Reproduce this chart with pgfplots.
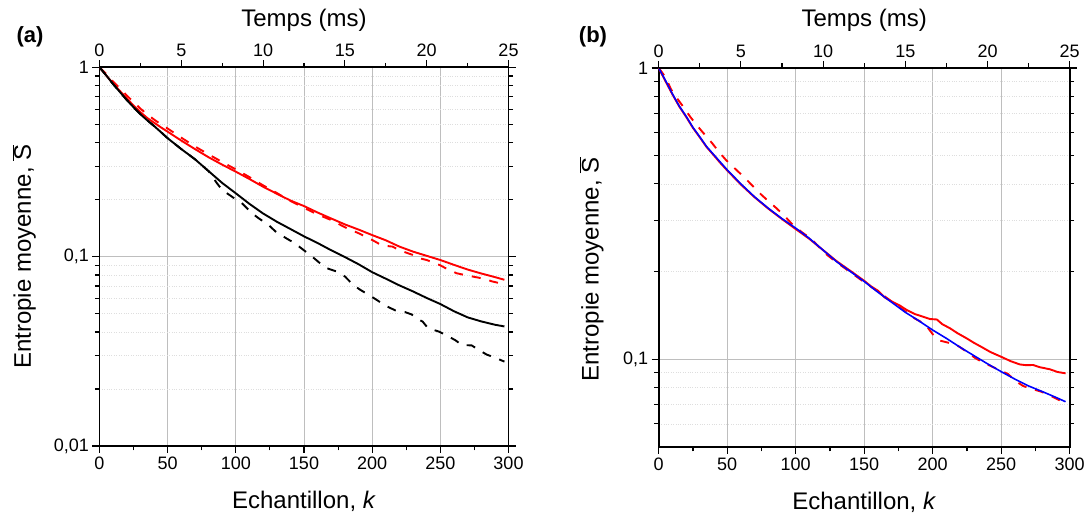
\documentclass[border=0pt]{standalone}
\usepackage{fontspec}
\setmainfont{Liberation Sans}
\usepackage{pgfplots}
\pgfplotsset{compat=1.18}
\definecolor{gridmaj}{RGB}{190,190,190}
\definecolor{gridmin}{RGB}{222,222,222}
\pgfplotsset{
 mybasestyle/.style={
  scale only axis, anchor=south west,
  tick align=outside,
  major tick length=7pt, minor tick length=4.5pt,
  every tick/.style={black, line width=1.1pt},
  axis line style={line width=1.7pt},
  tick label style={font=\fontsize{18}{18}\selectfont},
  label style={font=\fontsize{24}{24}\selectfont},
  /pgf/number format/assume math mode=true,
 },
 mymainstyle/.style={
  mybasestyle,
  xmin=0, xmax=300,
  xtick={0,50,...,300}, minor xtick={25,75,...,275},
  xtick pos=left, ytick pos=both, yticklabel pos=left,
  xmajorgrids, ymajorgrids, yminorgrids,
  major grid style={gridmaj, line width=1pt},
  minor grid style={gridmin, dotted, line width=0.7pt},
  xlabel={Echantillon, \textit{k}},
  ylabel={Entropie moyenne, \(\overline{\mbox{S}}\)},
  xlabel style={at={(axis description cs:0.5,0)},anchor=base,yshift=-62pt},
  every axis plot/.append style={line width=1.9pt, line join=round},
 },
 mytopstyle/.style={
  mybasestyle,
  xmin=0, xmax=25, ymin=0, ymax=1,
  axis x line*=top, axis y line=none,
  xtick={0,5,...,25}, minor xtick={2.5,7.5,...,22.5},
  xlabel={Temps (ms)},
  xlabel style={at={(axis description cs:0.5,1)},anchor=base,yshift=41pt},
 },
}
\tikzset{mydsh/.style={dash pattern=on 9pt off 9pt}}
\begin{document}
\begin{tikzpicture}
\path[use as bounding box] (0pt,0pt) rectangle (1089pt,516pt);
\node[font=\bfseries\fontsize{22}{22}\selectfont] at (30pt,479pt) {(a)};
\node[font=\bfseries\fontsize{22}{22}\selectfont] at (593pt,479pt) {(b)};
% ---------------- (a)
\begin{axis}[ymode=log, mymainstyle, at={(99.5pt,70pt)}, width=409pt, height=378.7pt,
  ymin=0.01, ymax=1, ytick={0.01,0.1,1}, yticklabels={{0,01},{0,1},{1}},
  minor ytick={0.02,0.03,0.04,0.05,0.06,0.07,0.08,0.09,0.2,0.3,0.4,0.5,0.6,0.7,0.8,0.9},
  ylabel style={at={([xshift=-75.5pt]axis description cs:0,0.5)},anchor=center},
]
\addplot[red] coordinates {(0,1.0)(5,0.905)(10,0.82)(15,0.75)(20,0.685)(25,0.628)(30,0.58)(35,0.54)(40,0.51)(45,0.482)(50,0.457)(60,0.41)(70,0.37)(80,0.335)(90,0.306)(100,0.281)(110,0.257)(120,0.234)(130,0.215)(140,0.198)(150,0.185)(160,0.171)(170,0.159)(180,0.148)(190,0.139)(200,0.130)(210,0.122)(220,0.113)(230,0.1063)(240,0.101)(250,0.096)(260,0.0905)(270,0.0855)(280,0.0815)(290,0.078)(297,0.0755)};
\addplot[red,mydsh] coordinates {(0,1.0)(5,0.92)(10,0.84)(15,0.775)(20,0.71)(25,0.655)(30,0.605)(35,0.565)(40,0.53)(45,0.5)(50,0.475)(60,0.425)(70,0.382)(80,0.347)(90,0.316)(100,0.289)(110,0.263)(120,0.238)(130,0.217)(140,0.197)(150,0.181)(160,0.167)(170,0.156)(180,0.143)(190,0.133)(200,0.1225)(205,0.117)(210,0.114)(215,0.113)(220,0.108)(225,0.105)(230,0.102)(235,0.098)(240,0.096)(245,0.093)(250,0.090)(255,0.086)(262,0.0817)(268,0.080)(275,0.0782)(282,0.0765)(288,0.074)(295,0.072)};
\addplot[black] coordinates {(0,1.0)(5,0.905)(10,0.815)(15,0.74)(20,0.672)(25,0.615)(30,0.565)(35,0.525)(40,0.49)(45,0.455)(50,0.422)(60,0.37)(70,0.327)(80,0.283)(90,0.245)(100,0.216)(110,0.19)(120,0.169)(130,0.153)(140,0.14)(150,0.128)(160,0.118)(170,0.108)(180,0.0995)(190,0.0912)(200,0.0828)(210,0.0765)(220,0.0705)(230,0.0655)(240,0.0605)(250,0.0562)(260,0.0515)(270,0.0478)(280,0.0455)(290,0.0437)(297,0.0428)};
\addplot[black,mydsh] coordinates {(0,1.0)(5,0.905)(10,0.815)(15,0.74)(20,0.672)(25,0.615)(30,0.565)(35,0.525)(40,0.49)(45,0.455)(50,0.422)(60,0.37)(70,0.327)(80,0.283)(86,0.245)(90,0.225)(99,0.203)(105,0.19)(112,0.169)(117,0.159)(124,0.147)(129,0.136)(137,0.125)(143,0.118)(150,0.108)(156,0.100)(162,0.092)(167,0.0868)(174,0.0834)(180,0.0786)(186,0.071)(191,0.067)(198,0.0625)(203,0.0593)(210,0.055)(217,0.052)(224,0.051)(229,0.0495)(233,0.047)(237,0.0454)(241,0.0419)(249,0.0402)(254,0.0386)(261,0.0362)(266,0.0341)(273,0.034)(278,0.0322)(284,0.0304)(290,0.0293)(297,0.0279)};
\end{axis}
\begin{axis}[mytopstyle, at={(99.5pt,70pt)}, width=409pt, height=378.7pt]
\end{axis}
% ---------------- (b)
\begin{axis}[ymode=log, mymainstyle, at={(658.7pt,69pt)}, width=411pt, height=379pt,
  ymin=0.05, ymax=1, ytick={0.1,1}, yticklabels={{0,1},{1}},
  minor ytick={0.06,0.07,0.08,0.09,0.2,0.3,0.4,0.5,0.6,0.7,0.8,0.9},
  ylabel style={at={([xshift=-67pt,yshift=-12pt]axis description cs:0,0.5)},anchor=center},
]
\addplot[red] coordinates {(0,1.0)(5,0.9)(10,0.812)(15,0.738)(20,0.68)(25,0.623)(30,0.578)(35,0.535)(40,0.503)(45,0.472)(50,0.445)(60,0.398)(70,0.36)(80,0.329)(90,0.303)(100,0.28)(110,0.259)(120,0.237)(130,0.217)(140,0.201)(150,0.186)(155,0.178)(160,0.172)(165,0.163)(170,0.158)(176,0.153)(181,0.1477)(187,0.143)(193,0.140)(198,0.1375)(203,0.137)(207,0.132)(212.6,0.1278)(218,0.123)(224.8,0.118)(230,0.114)(236,0.110)(242,0.106)(250,0.102)(257,0.0985)(263.7,0.096)(268,0.0955)(273.4,0.0956)(278,0.094)(285.6,0.0924)(291,0.0905)(297,0.0895)};
\addplot[red,mydsh] coordinates {(0,1.0)(5,0.93)(9,0.845)(14,0.78)(18,0.735)(23,0.68)(27.5,0.639)(33,0.595)(39,0.552)(44,0.515)(49,0.484)(56,0.45)(63,0.419)(69,0.392)(75,0.367)(81,0.346)(86,0.33)(92,0.31)(98,0.289)(105,0.272)(111,0.26)(117,0.243)(123,0.228)(130,0.215)(140,0.199)(150,0.184)(160,0.171)(170,0.158)(180,0.146)(187,0.138)(192,0.134)(195,0.131)(200,0.122)(205,0.116)(211.5,0.114)(216,0.113)(220,0.11)(225,0.106)(231,0.101)(236,0.098)(242,0.095)(248.6,0.0919)(255,0.089)(260.5,0.0842)(266,0.081)(273,0.079)(279,0.0775)(285,0.0754)(291,0.073)(297,0.0706)};
\addplot[blue, line width=1.6pt] coordinates {(0,1.0)(5,0.905)(10,0.815)(15,0.74)(20,0.683)(25,0.625)(30,0.58)(35,0.537)(40,0.505)(45,0.475)(50,0.447)(60,0.40)(70,0.361)(80,0.33)(90,0.304)(100,0.282)(110,0.26)(120,0.237)(130,0.216)(140,0.2)(150,0.185)(160,0.17)(170,0.157)(180,0.145)(190,0.1355)(200,0.126)(210,0.118)(220,0.11)(230,0.103)(240,0.0965)(250,0.0907)(260,0.0855)(270,0.081)(280,0.0775)(290,0.074)(297,0.0715)};
\end{axis}
\begin{axis}[mytopstyle, at={(658.7pt,69pt)}, width=411pt, height=379pt]
\end{axis}
\end{tikzpicture}
\end{document}
